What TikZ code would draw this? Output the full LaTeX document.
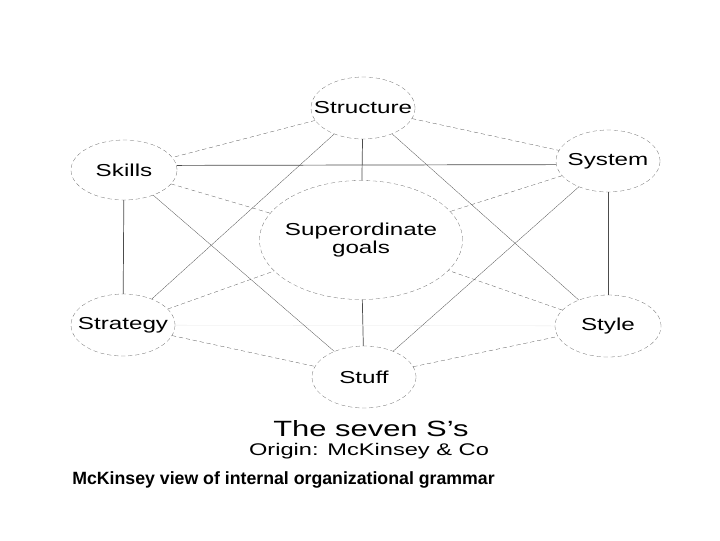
\documentclass[tikz,border=0pt]{standalone}
\usepackage{fontspec}
\setmainfont{Liberation Sans}
\newfontfamily\wide{Liberation Sans}[FakeStretch=1.4]
\usetikzlibrary{shapes.geometric}
\definecolor{edge}{gray}{0.3}
\definecolor{rim}{gray}{0.4}
\definecolor{faint}{gray}{0.9}
\tikzset{
  ess/.style={draw=rim, densely dashed, very thin, ellipse, inner sep=0pt,
    minimum width=2.6cm, minimum height=1.55cm,
    label={[font=\wide\fontsize{12.3}{13}\selectfont, align=center]center:#1}},
  tie/.style={draw=edge, line width=0.5pt},
  link/.style={draw=edge, very thin},
  dlink/.style={draw=edge, very thin, densely dashed}}

\begin{document}
\begin{tikzpicture}[x=0.025cm, y=-0.025cm]
\useasboundingbox (0,0) rectangle (720,540);
% the seven S's
\node[ess=Structure] (struct) at (363,108) {};
\node[ess=Skills, minimum width=2.65cm, minimum height=1.5cm] (skills) at (124,170) {};
\node[ess=System] (system) at (608,161) {};
\node[ess={Superordinate\\goals}, minimum width=5.075cm, minimum height=2.975cm] (goals) at (361,240) {};
\node[ess=Strategy] (strat) at (123,325) {};
\node[ess=Style, minimum width=2.65cm] (style) at (608,326) {};
\node[ess=Stuff] (stuff) at (364,377) {};
% solid ties
\draw[tie] (skills.5.5) -- (system.184.4);
\draw[tie] (struct) -- (goals);
\draw[tie] (goals) -- (stuff);
\draw[tie] (skills) -- (strat);
\draw[tie] (system) -- (style);
\draw[draw=faint, very thin] (strat) -- (style);
% outer ring
\draw[dlink] (struct) -- (skills);
\draw[dlink] (struct) -- (system);
\draw[dlink] (strat) -- (stuff);
\draw[dlink] (stuff) -- (style);
% spokes to the goals
\foreach \s in {skills,system,strat,style}
  \draw[dlink] (\s) -- (goals);
% diagonals
\draw[link] (struct) -- (strat);
\draw[link] (struct) -- (style);
\draw[link] (skills) -- (stuff);
\draw[link] (system) -- (stuff);
% captions
\node[font=\wide\fontsize{15.7}{18}\selectfont, inner sep=0pt] (title) at (371,429) {The seven S’s};
\node[font=\wide\fontsize{12}{14}\selectfont, inner sep=0pt] (origin) at (369,451) {Origin: McKinsey \& Co};
\node[anchor=west, inner sep=0pt, font=\bfseries\fontsize{12.6}{15}\selectfont] (caption) at (72,480) {McKinsey view of internal organizational grammar};
\end{tikzpicture}
\end{document}
